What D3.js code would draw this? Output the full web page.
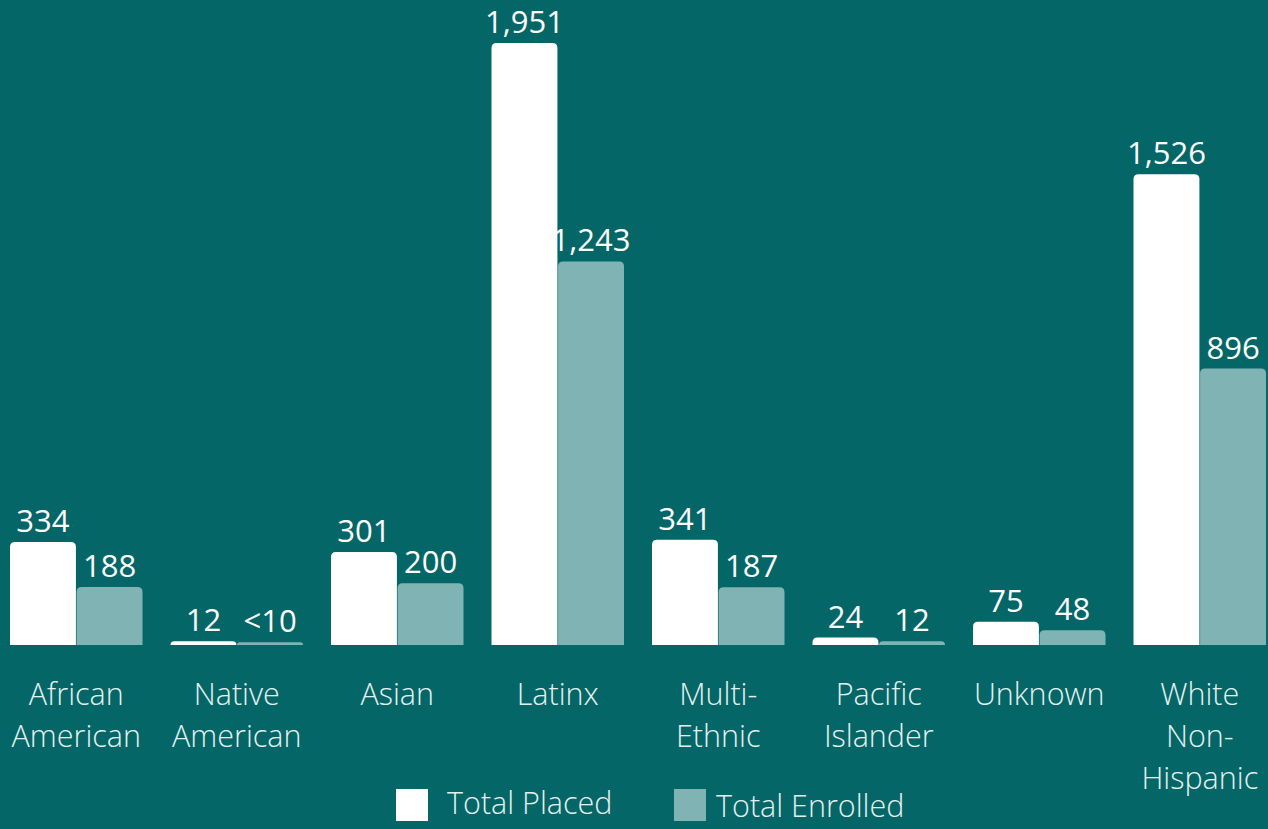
<!DOCTYPE html>
<html>
<head>
<meta charset="utf-8">
<script src="https://cdn.jsdelivr.net/npm/d3@7"></script>
<style>
  html, body { margin: 0; padding: 0; background: #046666; }
  svg { display: block; }
</style>
</head>
<body>
<svg id="chart" width="1268" height="829"></svg>
<script>
const categories = [
  ["African", "American"],
  ["Native", "American"],
  ["Asian"],
  ["Latinx"],
  ["Multi-", "Ethnic"],
  ["Pacific", "Islander"],
  ["Unknown"],
  ["White", "Non-", "Hispanic"]
];
const seriesNames = ["Total Placed", "Total Enrolled"];
const totalPlaced = [334, 12, 301, 1951, 341, 24, 75, 1526];
const totalEnrolled = [188, 9, 200, 1243, 187, 12, 48, 896];
const enrolledLabels = ["188", "<10", "200", "1,243", "187", "12", "48", "896"];
const colors = ["#ffffff", "#80b3b3"];

(function () {
const W = 1268, H = 829;
const svg = d3.select("#chart");
svg.append("rect").attr("width", W).attr("height", H).attr("fill", "#046666");

const baseline = 645, plotTop = 43;
const x = d3.scaleBand().domain(d3.range(categories.length)).range([-4, 1280]).paddingInner(0).paddingOuter(0);
const inner = d3.scaleBand().domain([0, 1]).range([14, x.bandwidth() - 14]).paddingInner(0.01);
const y = d3.scaleLinear().domain([0, 1951]).range([baseline, plotTop]);

const fmt = d3.format(",");
const rows = categories.map((c, i) => ({
  i,
  vals: [
    { s: 0, v: totalPlaced[i], label: fmt(totalPlaced[i]) },
    { s: 1, v: totalEnrolled[i], label: enrolledLabels[i] }
  ]
}));

function topRounded(x0, w, yTop, yBot, r) {
  r = Math.min(r, (yBot - yTop), w / 2);
  const p = d3.path();
  p.moveTo(x0, yBot);
  p.lineTo(x0, yTop + r);
  p.quadraticCurveTo(x0, yTop, x0 + r, yTop);
  p.lineTo(x0 + w - r, yTop);
  p.quadraticCurveTo(x0 + w, yTop, x0 + w, yTop + r);
  p.lineTo(x0 + w, yBot);
  p.closePath();
  return p.toString();
}

const g = svg.selectAll("g.grp").data(rows).enter().append("g")
  .attr("class", "grp")
  .attr("transform", d => `translate(${x(d.i)},0)`);

g.selectAll("path.bar").data(d => d.vals).enter().append("path")
  .attr("class", "bar")
  .attr("d", d => topRounded(inner(d.s), inner.bandwidth(), y(d.v), baseline, 5))
  .attr("fill", d => colors[d.s]);

g.selectAll("text.val").data(d => d.vals).enter().append("text")
  .attr("class", "val")
  .attr("x", d => inner(d.s) + inner.bandwidth() / 2)
  .attr("y", d => y(d.v) - 10)
  .attr("text-anchor", "middle")
  .attr("font-family", "'Open Sans', sans-serif")
  .attr("font-size", 31)
  .attr("fill", "#ffffff")
  .text(d => d.label);

g.append("text")
  .attr("x", x.bandwidth() / 2)
  .attr("text-anchor", "middle")
  .attr("font-family", "'Open Sans', sans-serif")
  .attr("font-weight", 300)
  .attr("font-size", 30.5)
  .attr("fill", "#e4f1f1")
  .selectAll("tspan").data(d => categories[d.i]).enter().append("tspan")
  .attr("x", x.bandwidth() / 2)
  .attr("y", (d, k) => 705 + k * 42)
  .text(d => d);

const legendX = [396, 674];
const leg = svg.selectAll("g.leg").data(seriesNames).enter().append("g")
  .attr("class", "leg")
  .attr("transform", (d, i) => `translate(${legendX[i]},789)`);
leg.append("rect").attr("width", 32).attr("height", 32).attr("fill", (d, i) => colors[i]);
leg.append("text")
  .attr("x", (d, i) => i === 0 ? 51 : 42)
  .attr("y", (d, i) => i === 0 ? 25 : 28)
  .attr("font-family", "'Open Sans', sans-serif")
  .attr("font-weight", 300)
  .attr("font-size", 30.5)
  .attr("fill", "#e4f1f1")
  .text(d => d);
})();
</script>
</body>
</html>
